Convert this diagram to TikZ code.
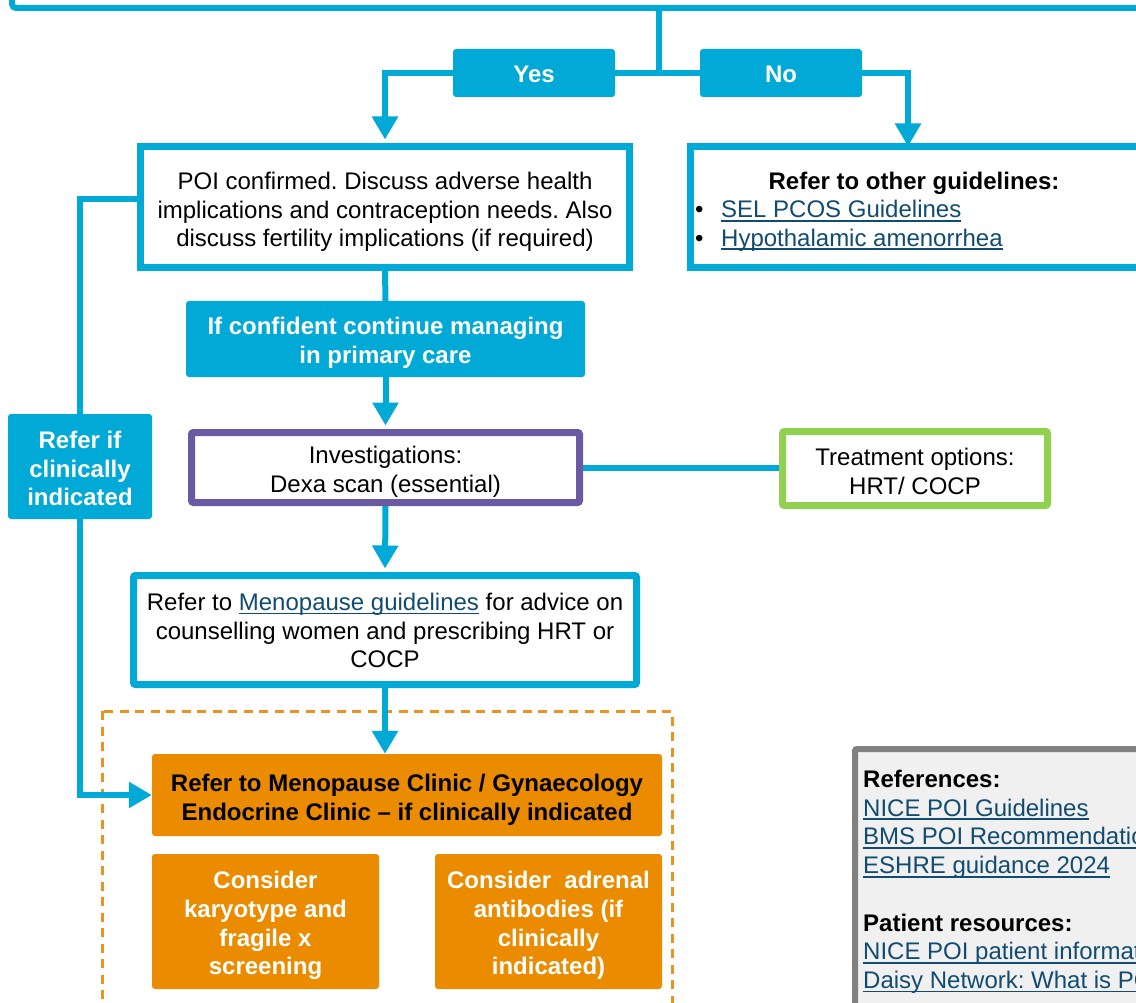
\documentclass[tikz,border=0pt]{standalone}
\usepackage{fontspec}
\setmainfont{Liberation Sans}
\usetikzlibrary{arrows.meta,backgrounds}
\definecolor{cy}{RGB}{0,169,214}
\definecolor{orb}{RGB}{234,139,0}
\definecolor{ord}{RGB}{238,146,30}
\definecolor{pu}{RGB}{106,90,164}
\definecolor{gr}{RGB}{146,208,80}
\definecolor{lk}{RGB}{17,76,112}
\definecolor{rg}{RGB}{128,128,128}
\definecolor{rf}{RGB}{240,240,240}
\newcommand{\fs}{\fontsize{24}{28.7}\selectfont\frenchspacing}
\newcommand{\lnk}[1]{{\color{lk}\setbox0=\hbox{#1}\rlap{\rule[-4pt]{\wd0}{1.8pt}}\box0}}
\tikzset{
  cline/.style={draw=cy, line width=6pt},
  arr/.style={cline, -{Triangle[width=25pt,length=23pt]}},
  wbox/.style={draw=cy, line width=7pt, fill=white, inner sep=0pt},
  fbox/.style={fill=cy, rounded corners=3pt, inner sep=0pt},
  obox/.style={fill=orb, rounded corners=3pt, inner sep=0pt},
  plain/.style={inner sep=0pt, font=\fs, align=center},
  wtxt/.style={plain, text=white, font=\fs\bfseries},
  btxt/.style={plain, font=\fs\bfseries}
}
\begin{document}
\begin{tikzpicture}[x=1pt,y=-1pt]
\useasboundingbox (0,0) rectangle (1136,1003);
\clip (0,0) rectangle (1136,1003);

% boxes
\node[fbox, minimum width=162, minimum height=48] (yes) at (534,73) {};
\node[wtxt] (yest) at (534,74) {Yes};
\node[fbox, minimum width=162, minimum height=48] (no) at (781,73) {};
\node[wtxt] (not) at (781,74) {No};
\coordinate (top) at (659,8);
\coordinate (mid) at (659,73);
\coordinate (noarr) at (908,146.5);

\node[wbox, minimum width=489, minimum height=121] (poi) at (385,207) {};
\node[plain] (poit) at (385,212)
  {POI confirmed. Discuss adverse health\\implications and contraception needs. Also\\discuss fertility implications (if required)};
\node[wbox, minimum width=460, minimum height=121] (other) at (920.25,207) {};
\node[btxt] (othhead) at (914,183) {Refer to other guidelines:};
\node[plain, anchor=north west, align=left] (othlist) at (695,200)
  {\makebox[26pt][l]{•}\lnk{SEL PCOS Guidelines}\\\makebox[26pt][l]{•}\lnk{Hypothalamic amenorrhea}};

\node[fbox, minimum width=399, minimum height=76] (conf) at (385.5,339) {};
\node[wtxt] (conft) at (385.5,343) {If confident continue managing\\in primary care};
\node[wbox, draw=pu, rounded corners=2pt, minimum width=388, minimum height=70] (inv) at (385.5,467.5) {};
\node[plain] (invt) at (385.5,471.5) {Investigations:\\Dexa scan (essential)};
\node[wbox, draw=gr, rounded corners=2pt, minimum width=265, minimum height=74] (treat) at (915,468.5) {};
\node[plain] (treatt) at (915,471.5) {Treatment options:\\HRT/ COCP};
\node[wbox, rounded corners=2pt, minimum width=503, minimum height=109] (meno) at (385,630) {};
\node[plain] (menot) at (385,630.5)
  {Refer to \lnk{Menopause guidelines} for advice on\\counselling women and prescribing HRT or\\COCP};
\node[obox, minimum width=510, minimum height=82] (clinic) at (407,795) {};
\node[btxt] (clinict) at (407,800)
  {Refer to Menopause Clinic / Gynaecology\\Endocrine Clinic -- if clinically indicated};
\node[obox, minimum width=227, minimum height=135] (kary) at (265.5,921.5) {};
\node[wtxt] (karyt) at (265.5,925.5) {Consider\\karyotype and\\fragile x\\screening};
\node[obox, minimum width=227, minimum height=135] (adren) at (548.5,921.5) {};
\node[wtxt] (adrent) at (548.5,925.5) {Consider~ adrenal\\antibodies (if\\clinically\\indicated)};
\node[fbox, minimum width=144, minimum height=105] (refer) at (80,466.5) {};
\node[wtxt] (refert) at (80,468.5) {Refer if\\clinically\\indicated};

% references panel
\draw[draw=rg, fill=rf, line width=6pt, rounded corners=2pt] (855,749) rectangle (1170,1030);
\node[plain, anchor=north west, align=left] (refs) at (863,770)
  {\textbf{References:}\\\lnk{NICE POI Guidelines}\\\lnk{BMS POI Recommendations}\\\lnk{ESHRE guidance 2024}\\[28.7pt]
   \textbf{Patient resources:}\\\lnk{NICE POI patient information}\\\lnk{Daisy Network: What is POI?}};

% connectors
\begin{pgfonlayer}{background}
\draw[draw=ord, line width=3pt, dash pattern=on 9pt off 6.5pt] (102,711) rectangle (672,1030);
\draw[cline, rounded corners=4pt] (12,-10) |- (1140,8);
\draw[cline] (top) -- (mid);
\draw[cline] (yes.east) -- (no.west);
\draw[arr, shorten >=3.5pt] (yes.west) -| (poi.north);
\draw[arr] (no.east) -| (noarr);
\draw[cline] (poi.south) -- (conf.north);
\draw[arr, shorten >=3.5pt] (conf.south) -- (inv.north);
\draw[cline] (inv.east) -- (inv.east -| treat.west);
\draw[arr, shorten >=3.5pt] (inv.south) -- (meno.north);
\draw[arr] (meno.south) -- (meno.south |- clinic.north);
\draw[cline] ([yshift=8pt]poi.west) -| (refer.north);
\draw[arr] (refer.south) |- (clinic.west);
\end{pgfonlayer}
\end{tikzpicture}
\end{document}
